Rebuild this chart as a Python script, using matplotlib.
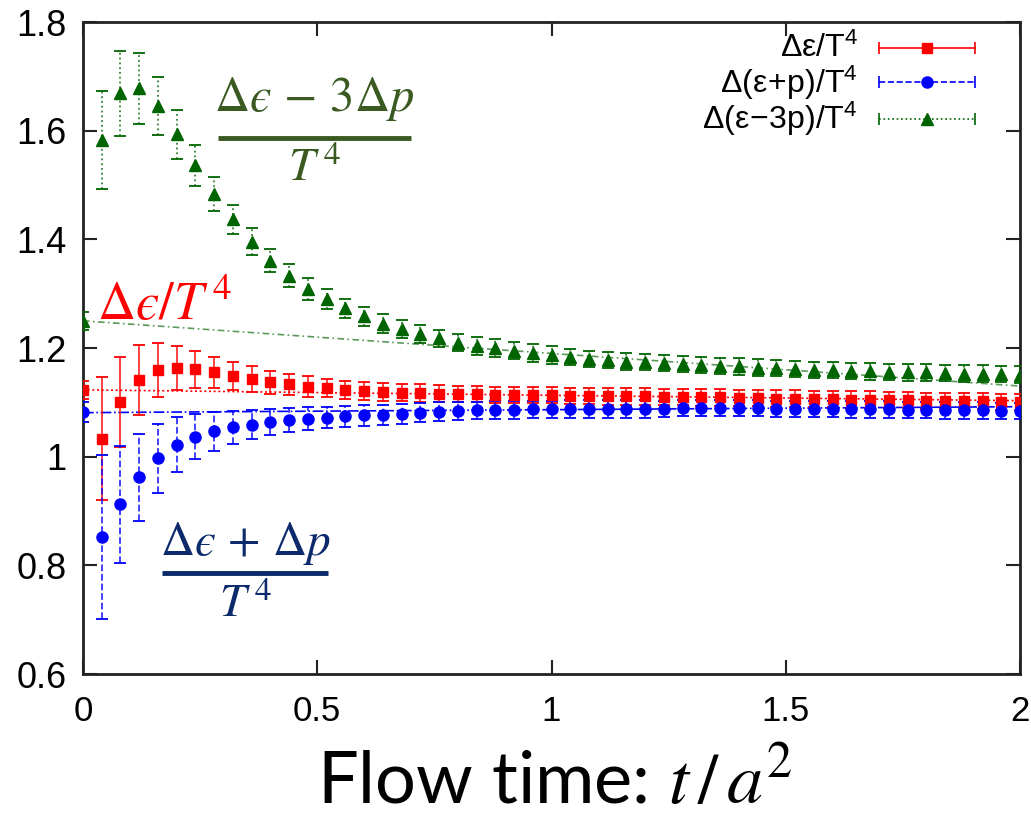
import matplotlib
matplotlib.use("Agg")
import matplotlib.pyplot as plt
from matplotlib.lines import Line2D

# ---- data -------------------------------------------------------------
flow_t = [0.04, 0.08, 0.12, 0.16, 0.20, 0.24, 0.28, 0.32, 0.36, 0.40,
          0.44, 0.48, 0.52, 0.56, 0.60, 0.64, 0.68, 0.72, 0.76, 0.80,
          0.84, 0.88, 0.92, 0.96, 1.00, 1.04, 1.08, 1.12, 1.16, 1.20,
          1.24, 1.28, 1.32, 1.36, 1.40, 1.44, 1.48, 1.52, 1.56, 1.60,
          1.64, 1.68, 1.72, 1.76, 1.80, 1.84, 1.88, 1.92, 1.96, 2.00]

energy = [1.033, 1.100, 1.141, 1.160, 1.163, 1.161, 1.155, 1.149, 1.143, 1.137,
          1.133, 1.129, 1.126, 1.123, 1.121, 1.119, 1.118, 1.117, 1.116, 1.115,
          1.115, 1.114, 1.114, 1.113, 1.113, 1.112, 1.112, 1.111, 1.111, 1.111,
          1.110, 1.110, 1.109, 1.109, 1.108, 1.108, 1.107, 1.107, 1.106, 1.106,
          1.105, 1.105, 1.104, 1.104, 1.103, 1.103, 1.102, 1.102, 1.101, 1.101]
energy_err = [0.113, 0.083, 0.064, 0.050, 0.041, 0.034, 0.028, 0.026, 0.024, 0.021,
              0.020, 0.019, 0.017, 0.017, 0.016, 0.016, 0.016, 0.016, 0.016, 0.015,
              0.015, 0.015, 0.015, 0.015, 0.015, 0.015, 0.015, 0.015, 0.015, 0.015,
              0.015, 0.015, 0.015, 0.015, 0.015, 0.015, 0.015, 0.015, 0.015, 0.015,
              0.015, 0.015, 0.015, 0.015, 0.015, 0.015, 0.015, 0.015, 0.015, 0.015]

enthalpy = [0.852, 0.912, 0.962, 0.997, 1.022, 1.037, 1.047, 1.054, 1.059, 1.064,
            1.067, 1.070, 1.072, 1.074, 1.076, 1.077, 1.079, 1.081, 1.083, 1.084,
            1.085, 1.086, 1.086, 1.087, 1.087, 1.088, 1.088, 1.088, 1.088, 1.088,
            1.088, 1.089, 1.089, 1.089, 1.089, 1.089, 1.088, 1.088, 1.088, 1.088,
            1.087, 1.087, 1.087, 1.086, 1.086, 1.085, 1.085, 1.085, 1.084, 1.084]
enthalpy_err = [0.151, 0.108, 0.080, 0.063, 0.051, 0.042, 0.036, 0.030, 0.027, 0.024,
                0.022, 0.021, 0.020, 0.020, 0.019, 0.018, 0.018, 0.017, 0.017, 0.017,
                0.016, 0.016, 0.016, 0.016, 0.016, 0.016, 0.016, 0.016, 0.016, 0.016,
                0.015, 0.015, 0.015, 0.015, 0.015, 0.015, 0.015, 0.015, 0.015, 0.015,
                0.015, 0.015, 0.015, 0.015, 0.015, 0.015, 0.015, 0.015, 0.015, 0.015]

trace = [1.583, 1.669, 1.678, 1.645, 1.593, 1.536, 1.484, 1.437, 1.396, 1.361,
         1.333, 1.309, 1.290, 1.273, 1.258, 1.245, 1.235, 1.226, 1.218, 1.210,
         1.204, 1.200, 1.195, 1.191, 1.187, 1.184, 1.180, 1.178, 1.175, 1.174,
         1.172, 1.171, 1.169, 1.167, 1.166, 1.164, 1.163, 1.161, 1.160, 1.159,
         1.158, 1.157, 1.156, 1.155, 1.155, 1.154, 1.153, 1.153, 1.152, 1.151]
trace_err = [0.090, 0.078, 0.065, 0.053, 0.045, 0.037, 0.031, 0.027, 0.024, 0.022,
             0.021, 0.020, 0.018, 0.017, 0.017, 0.017, 0.016, 0.016, 0.016, 0.016,
             0.016, 0.016, 0.016, 0.016, 0.016, 0.015, 0.015, 0.015, 0.015, 0.015,
             0.015, 0.015, 0.015, 0.015, 0.015, 0.015, 0.015, 0.015, 0.015, 0.015,
             0.015, 0.015, 0.015, 0.015, 0.015, 0.015, 0.015, 0.015, 0.015, 0.015]

# t -> 0 extrapolated values
extrap_t = [0.0]
energy_0, energy_0_err = [1.123], [0.016]
enthalpy_0, enthalpy_0_err = [1.082], [0.018]
trace_0, trace_0_err = [1.250], [0.016]

# linear fits (end points)
fit_t = [0.0, 2.0]
energy_fit = [1.123, 1.103]
enthalpy_fit = [1.081, 1.092]
trace_fit = [1.250, 1.130]

series_labels = [r"$\mathrm{Δε/T}^{4}$", r"$\mathrm{Δ(ε\!+\!p)/T}^{4}$",
                 r"$\mathrm{Δ(ε\!-\!3p)/T}^{4}$"]
x_ticks = [0, 0.5, 1, 1.5, 2]
x_ticklabels = ["0", "0.5", "1", "1.5", "2"]
y_ticks = [0.6, 0.8, 1.0, 1.2, 1.4, 1.6, 1.8]
y_ticklabels = ["0.6", "0.8", "1", "1.2", "1.4", "1.6", "1.8"]

# ---- style ------------------------------------------------------------
plt.rcParams["font.family"] = ["Liberation Sans", "DejaVu Sans"]
plt.rcParams["mathtext.fontset"] = "custom"
plt.rcParams["mathtext.rm"] = "Liberation Sans"
plt.rcParams["mathtext.it"] = "Liberation Sans:italic"
plt.rcParams["mathtext.bf"] = "Liberation Sans:bold"

RED, BLUE, GREEN = "#ff0000", "#0000ff", "#006400"
EPS = "\u03f5"  # lunate epsilon

fig = plt.figure(figsize=(10.31, 8.19), dpi=100)
ax = fig.add_axes([83 / 1031, 1 - 674 / 819, 937 / 1031, 652 / 819])

styles = [
    (energy, energy_err, energy_0, energy_0_err, energy_fit, RED, "s", "-", (0, (1.2, 1.6)), 7.5),
    (enthalpy, enthalpy_err, enthalpy_0, enthalpy_0_err, enthalpy_fit, BLUE, "o", "--", "-.", 8.0),
    (trace, trace_err, trace_0, trace_0_err, trace_fit, GREEN, "^", ":", (0, (4, 2, 1, 2)), 8.0),
]

for vals, errs, v0, e0, fit, col, mk, els, fls, ms in styles:
    fit_col = col if col != GREEN else "#5a9a5a"
    ax.plot(fit_t, fit, color=fit_col, lw=1.2, ls=fls, zorder=2)
    for xs, ys, es in ((flow_t, vals, errs), (extrap_t, v0, e0)):
        cont = ax.errorbar(xs, ys, yerr=es, fmt=mk, color=col, ms=ms,
                           ecolor=col, elinewidth=1.3, capsize=4, capthick=1.3,
                           zorder=3, clip_on=True)
        for bar in cont[2]:
            bar.set_linestyle(els)
            bar.set_alpha(0.8)

ax.set_xlim(0, 2)
ax.set_ylim(0.6, 1.8)
ax.set_xticks(x_ticks)
ax.set_xticklabels(x_ticklabels)
ax.set_yticks(y_ticks)
ax.set_yticklabels(y_ticklabels)
ax.tick_params(direction="in", length=10, width=1.5, top=True, right=True,
               color="#222222")
ax.tick_params(axis="y", labelsize=26, pad=12)
ax.tick_params(axis="x", labelsize=25, pad=15)
for sp in ax.spines.values():
    sp.set_linewidth(2)
    sp.set_color("#222222")

# key in the upper right corner
key_rows = [0.9595, 0.9074, 0.8507]
for lbl, (vals, errs, v0, e0, fit, col, mk, els, fls, ms), yk in zip(series_labels, styles, key_rows):
    ax.text(0.827, yk, lbl, transform=ax.transAxes, ha="right", va="center",
            fontsize=23)
    ax.add_line(Line2D([0.850, 0.952], [yk, yk], transform=ax.transAxes,
                       color=col, lw=1.2, ls=els))
    ax.add_line(Line2D([0.850, 0.952], [yk, yk], transform=ax.transAxes,
                       color=col, lw=0, marker="|", ms=9, mew=1.2))
    ax.add_line(Line2D([0.901], [yk], transform=ax.transAxes, color=col,
                       lw=0, marker=mk, ms=ms))

# formula annotations
OLIVE, NAVY = "#3b5a22", "#0b2a6b"
ax.text(0.493, 1.659, r"$\Delta" + EPS + r"\,-\,3\Delta p$", color=OLIVE,
        fontsize=35, ha="center", va="center", math_fontfamily="stix")
ax.plot([0.288, 0.700], [1.586, 1.586], color=OLIVE, lw=3.5, solid_capstyle="butt")
ax.text(0.493, 1.530, r"$T^{\,4}$", color=OLIVE, fontsize=34, ha="center",
        va="center", math_fontfamily="stix")

ax.text(0.175, 1.278, r"$\Delta" + EPS + r"/T^{\,4}$", color=RED, fontsize=38,
        ha="center", va="center", math_fontfamily="stix")

ax.text(0.346, 0.840, r"$\Delta" + EPS + r"\,+\,\Delta p$", color=NAVY,
        fontsize=34, ha="center", va="center", math_fontfamily="stix")
ax.plot([0.169, 0.523], [0.786, 0.786], color=NAVY, lw=3.5, solid_capstyle="butt")
ax.text(0.346, 0.727, r"$T^{\,4}$", color=NAVY, fontsize=34, ha="center",
        va="center", math_fontfamily="stix")

fig.text(555 / 1031, 1 - 781 / 819, r"Flow time: $t\,/\,a^{2}$", ha="center",
         va="center", fontsize=52, family=["Lato", "DejaVu Sans"],
         math_fontfamily="stix")

fig.savefig("out.png", dpi=100, facecolor="white")
